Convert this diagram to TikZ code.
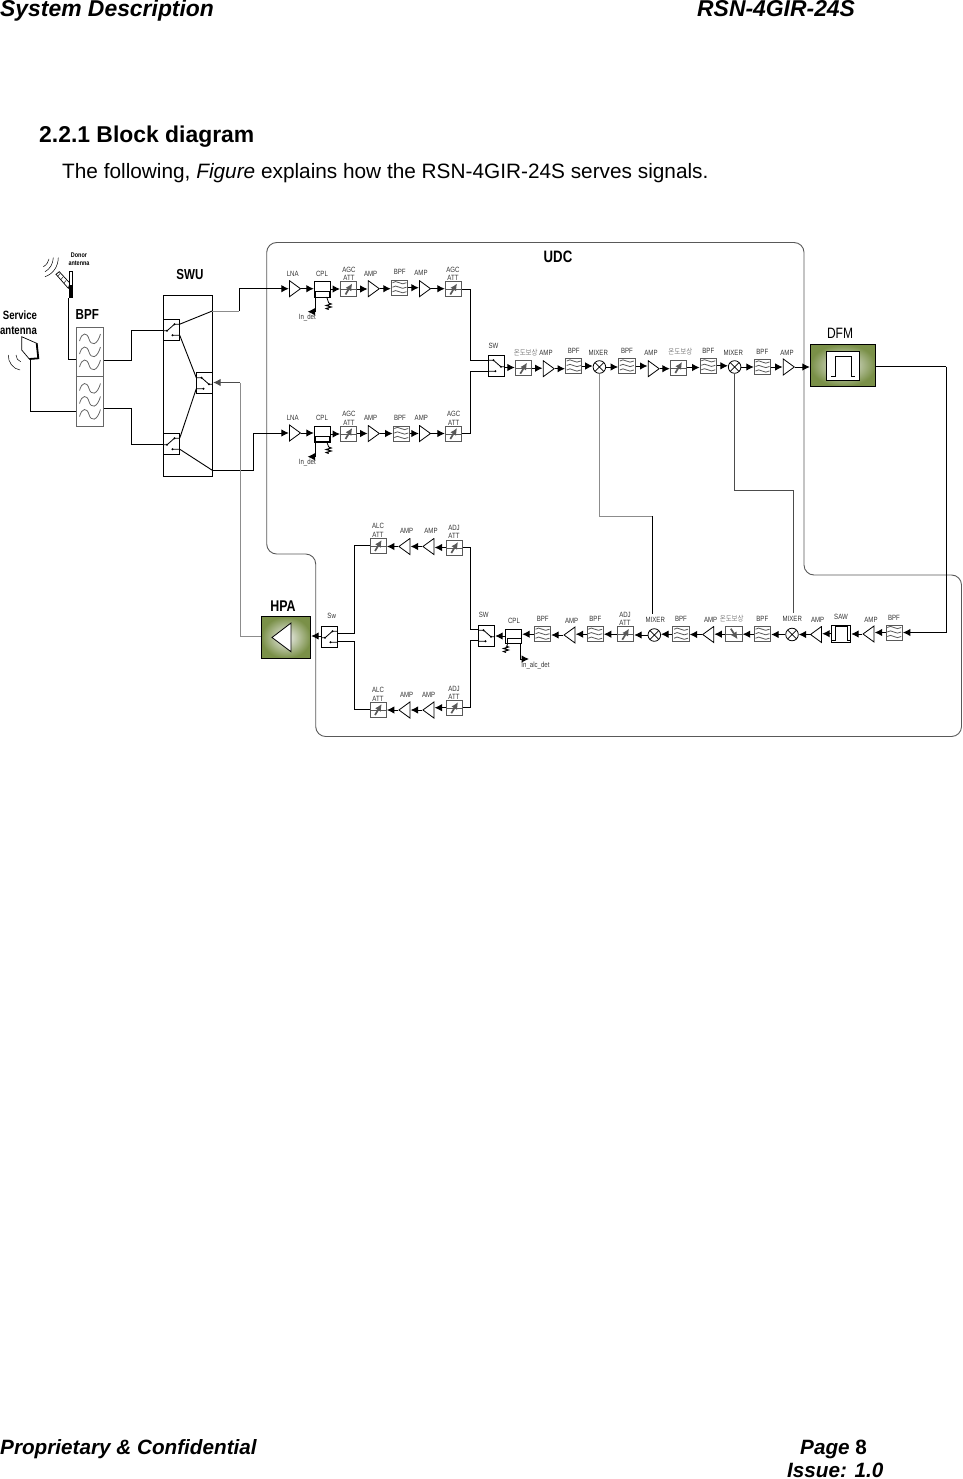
\documentclass[tikz,border=0pt]{standalone}
\usepackage{fontspec}
\setmainfont{Liberation Sans}
\newfontfamily\cond[FakeStretch=0.8]{Liberation Sans}
\newfontfamily\kr[FakeStretch=0.85]{Noto Sans CJK KR}
\usetikzlibrary{arrows.meta,calc}
\definecolor{lblc}{HTML}{333333}
\definecolor{grn}{HTML}{7A9048}
\newcounter{lb}
\newcommand{\lab}[3]{\stepcounter{lb}\node[lbl] (lab\thelb) at (#1,#2) {#3};}
\newcommand{\klab}[2]{\stepcounter{lb}\node[lbl,text=gray] (lab\thelb) at (#1,#2) {\kr 온도보상};}
\newcommand{\cnr}[2]{\draw[arr] (#1.east) -- (#1.east -| #2.west);}
\newcommand{\cnl}[2]{\draw[arr] (#1.west) -- (#1.west -| #2.east);}
\newcommand{\resist}[2]{\draw[line width=1] (#1,#2) -- ++(2.5,1) -- ++(-5,1.5) -- ++(5,1.5) -- ++(-5,1.5) -- ++(2.5,1);}
\tikzset{
 lbl/.style={inner sep=0,text=lblc,font=\cond\fontsize{7.6}{8}\selectfont},
 big/.style={inner sep=0,text=black,font=\cond\bfseries\fontsize{14.5}{15}\selectfont},
 head/.style={inner sep=0,anchor=base west,text=black,font=\bfseries\itshape\fontsize{22.9}{24}\selectfont},
 foot/.style={inner sep=0,anchor=base west,text=black,font=\bfseries\itshape\fontsize{20.7}{24}\selectfont},
 wire/.style={line width=1,black},
 gwire/.style={line width=1,black!45},
 arr/.style={line width=1,black,-{Latex[length=7.5,width=7.5]}},
 box/.style={draw=black,line width=1,inner sep=0,minimum width=16.4,minimum height=15},
 ampr/.style={inner sep=0,minimum width=12,minimum height=17,path picture={
   \draw[line width=.8,shift={(path picture bounding box.center)}] (-5.5,-8) -- (-5.5,8) -- (5.5,0) -- cycle;}},
 ampl/.style={inner sep=0,minimum width=12,minimum height=17,path picture={
   \draw[line width=.8,shift={(path picture bounding box.center)}] (5.5,-8) -- (5.5,8) -- (-5.5,0) -- cycle;}},
 filt/.style={box,draw=black!65,path picture={
   \draw[line width=.8,shift={(path picture bounding box.center)}]
    \foreach \yy in {-4.5,0,4.5} { (-7,\yy-.5) .. controls (-3,\yy-4.5) and (2,\yy+3.5) .. (7,\yy-.5) };}},
 bigfilt/.style={draw=black!60,line width=1,inner sep=0,minimum width=27.4,minimum height=49.5,path picture={
   \draw[line width=.8,shift={(path picture bounding box.center)}]
    \foreach \yy in {-13,0,13} { (-10.5,\yy+2) .. controls (-8,\yy-7) and (-3,\yy-7) .. (-1,\yy) .. controls (1,\yy+7) and (7,\yy+7) .. (10.5,\yy-5) };}},
 att/.style={box,draw=black!65,path picture={
   \begin{scope}[shift={(path picture bounding box.center)}]
   \draw[line width=.7] (-9,0.5) -- (9,0.5);
   \draw[line width=1.7,-{Latex[length=7,width=7]}] (-3.2,5.5) -- (3.5,-5.5);
   \end{scope}}},
 attm/.style={box,draw=black!65,path picture={
   \begin{scope}[shift={(path picture bounding box.center)}]
   \draw[line width=.7] (-9,0.5) -- (9,0.5);
   \draw[line width=1.7,{Latex[length=7,width=7]}-] (3.5,5) -- (-3.2,-5.5);
   \end{scope}}},
 mix/.style={circle,draw=black,line width=.8,inner sep=0,minimum size=12.6,path picture={
   \draw[line width=.7,shift={(path picture bounding box.center)}] (-6,-6) -- (6,6) (-6,6) -- (6,-6);}},
 swl/.style={box,minimum height=21,path picture={
   \begin{scope}[shift={(path picture bounding box.center)}]
   \draw[line width=.8] (-9,-5.6) -- (-3,-5.6) -- (4.5,1) -- (9,1) (-9,5.4) -- (-1,5.4);
   \fill (-3,-5.6) circle (1.1) (-1,5.4) circle (1.1) (4.5,1) circle (1.1);
   \end{scope}}},
 swr/.style={box,minimum height=21,path picture={
   \begin{scope}[shift={(path picture bounding box.center)}]
   \draw[line width=.8] (9,-5.6) -- (3,-5.6) -- (-4.5,1) -- (-9,1) (9,5.4) -- (1,5.4);
   \fill (3,-5.6) circle (1.1) (1,5.4) circle (1.1) (-4.5,1) circle (1.1);
   \end{scope}}},
 green/.style={draw=black,line width=1,inner sep=0,inner color=black!5!white,outer color=grn},
}
\begin{document}
\begin{tikzpicture}[x=1pt,y=-1pt]
\useasboundingbox (0,0) rectangle (962,1479);
% page text
\node[head] (h1) at (0,17) {System Description};
\node[head] (h2) at (697,17) {RSN-4GIR-24S};
\node[inner sep=0,anchor=base west,font=\bfseries\fontsize{22.9}{24}\selectfont] (t1) at (39,142.7) {2.2.1 Block diagram};
\node[inner sep=0,anchor=base west,font=\fontsize{20.8}{24}\selectfont] (t2) at (62,178.7) {The following, \textit{Figure} explains how the RSN-4GIR-24S serves signals.};
\node[foot] (f1) at (0,1454.5) {Proprietary \& Confidential};
\node[foot] (f2) at (800,1454.5) {Page \textup{8}};
\node[foot] (f3) at (787,1477.8) {Issue: 1.0};
% UDC outline
\draw[line width=.9,black!65,rounded corners=10] (266.7,400) -- (266.7,242.5) -- (804,242.5) -- (804,575) -- (961.5,575) -- (961.5,736.5) -- (315.7,736.5) -- (315.7,554) -- (266.7,554) -- (266.7,400);
\node[big,font=\cond\bfseries\fontsize{16.5}{17}\selectfont] (udc) at (558,257) {UDC};
\node[big] (swu) at (190,275) {SWU};
\node[big] (bpfl) at (87.3,314.3) {BPF};
\node[big,font=\cond\bfseries\fontsize{15.5}{16}\selectfont] (hpal) at (283,606) {HPA};
\node[inner sep=0,font=\cond\fontsize{15}{16}\selectfont] (dfml) at (840,333) {DFM};
\node[inner sep=0,align=center,font=\cond\bfseries\fontsize{6.8}{8}\selectfont] (don) at (79,259.5) {Donor\\antenna};
\node[inner sep=0,font=\cond\bfseries\fontsize{12}{13}\selectfont] (srv1) at (20,315.5) {Service};
\node[inner sep=0,font=\cond\bfseries\fontsize{12}{13}\selectfont] (srv2) at (18.5,330.5) {antenna};
% antennas
\draw[line width=.7] (56,274.3) -- (59.3,271.7) -- (70,283.3) -- (68.3,288.3) -- cycle;
\draw[line width=.4] (58,276) -- (60,273.5) (61,279.5) -- (63,277) (64,283) -- (66,280.5);
\draw[line width=.8,fill=white] (69.3,271) rectangle (72.7,285);
\fill (69.3,285) rectangle (72.7,298);
\draw[line width=.5] (58.3,257.7) .. controls (58,267) and (53,274) .. (45,276.7);
\draw[line width=.5] (53.3,257.7) .. controls (53,264) and (50,269) .. (45,271.7);
\draw[line width=.5] (49,259) .. controls (48.5,262) and (46.5,265) .. (43.3,266.7);
\draw[line width=.7,fill=white] (21.7,336.7) -- (36.7,343.3) -- (38.3,358.3) -- (29.3,359) -- (21.7,350) -- cycle;
\draw[line width=1.8] (36.7,343.3) -- (38.3,358.3) -- (29.3,359);
\draw[line width=.5] (8.3,355) .. controls (8,362) and (13,369) .. (20,370);
\draw[line width=.5] (16,355) .. controls (16,358) and (18,361) .. (20.7,361.7);
% BPF block
\node[bigfilt] (bpf1) at (90,352) {};
\node[bigfilt] (bpf2) at (90,401.5) {};
\coordinate (donb) at (68.3,298);
\coordinate (srvb) at (30,359);
\draw[wire] (donb) |- (bpf1.west |- 0,359.3);
\draw[wire] (srvb) |- (bpf2.west |- 0,411);
% SWU
\node[draw=black,line width=1,inner sep=0,minimum width=49,minimum height=181] (swubox) at (187.8,385.8) {};
\node[swr] (swa) at (171.5,329.8) {};
\node[swl] (swb) at (204.5,383.3) {};
\node[swr] (swc) at (171.5,443.8) {};
\draw[wire] (bpf1.east |- 0,360.3) -- (131.7,360.3) |- (swa.west |- 0,330.8);
\draw[wire] (bpf2.east |- 0,408.3) -- (131.7,408.3) |- (swc.west |- 0,444.8);
\coordinate (aout) at (212.3,311);
\coordinate (cout) at (212.3,470.3);
\draw[line width=.9] (179.7,324.2) -- (aout);
\draw[line width=.9] (179.7,335.2) -- (196.3,377.7);
\draw[line width=.9] (179.7,438.2) -- (196.3,388.7);
\draw[line width=.9] (179.7,449.2) -- (cout);
% Row 1
\node[ampr] (lna1) at (295,288.7) {};
\node[box,minimum height=16] (cpl1) at (322.5,289) {};
\draw[line width=.9] (315,291.7) rectangle (329,297);
\node[att] (att1a) at (348.7,289) {};
\node[ampr] (amp1a) at (373.8,288.7) {};
\node[filt] (bpf1a) at (399.5,287.7) {};
\node[ampr] (amp1b) at (425,288.7) {};
\node[att] (att1b) at (453.5,289) {};
\draw[gwire] (aout) -- (239.3,311);
\draw[arr] (239.3,311) |- (lna1.west);
\cnr{lna1}{cpl1}\cnr{cpl1}{att1a}\cnr{att1a}{amp1a}\cnr{amp1a}{bpf1a}\cnr{bpf1a}{amp1b}\cnr{amp1b}{att1b}
% Row 2
\node[ampr] (lna2) at (295,433) {};
\node[box,minimum height=16] (cpl2) at (322.5,434) {};
\draw[line width=.9] (315,436.5) rectangle (329,441.7);
\node[att] (att2a) at (348.7,433.5) {};
\node[ampr] (amp2a) at (373.8,433.5) {};
\node[filt] (bpf2a) at (401.3,433.5) {};
\node[ampr] (amp2b) at (425,433.5) {};
\node[att] (att2b) at (453.5,433.5) {};
\draw[arr] (cout) -- (253.3,470.3) |- (lna2.west);
\cnr{lna2}{cpl2}\cnr{cpl2}{att2a}\cnr{att2a}{amp2a}\cnr{amp2a}{bpf2a}\cnr{bpf2a}{amp2b}\cnr{amp2b}{att2b}
% detectors row 1,2
\coordinate (det1) at (307.5,311.7);
\coordinate (det2) at (307.5,456.7);
\draw[arr] (cpl1.south west -| 315.7,297) |- (det1);
\draw[arr] (cpl2.south west -| 315.7,441.7) |- (det2);
\draw[line width=.8] (326.7,297) -- (328.7,303);
\resist{328.7}{303}
\draw[line width=.8] (326.7,441.7) -- (328.7,447);
\resist{328.7}{447}
% Row 3
\node[swl] (sw3) at (496.4,365.8) {};
\node[att] (att3a) at (523.5,368.2) {};
\node[ampr] (amp3a) at (548.7,368.7) {};
\node[filt] (bpf3a) at (573.7,366) {};
\node[mix] (mx1) at (599.4,367) {};
\node[filt] (bpf3b) at (626.8,366) {};
\node[ampr] (amp3b) at (653.7,368.7) {};
\node[att] (att3b) at (678.5,367.5) {};
\node[filt] (bpf3c) at (708.3,365.8) {};
\node[mix] (mx2) at (734.6,367) {};
\node[filt] (bpf3d) at (762.5,367) {};
\node[ampr] (amp3c) at (788.8,367) {};
\node[green,minimum width=65.4,minimum height=42] (dfm) at (843,365.3) {};
\node[draw=black,line width=1,fill=white,inner sep=0,minimum width=33.4,minimum height=28.6,path picture={
  \draw[line width=.8,shift={(path picture bounding box.center)}] (-12,10) -- (-8,10) -- (-8,-9.5) -- (8,-9.5) -- (8,10) -- (12,10);}] (dfmi) at (843,366) {};
\cnr{att3a}{amp3a}\cnr{amp3a}{bpf3a}\cnr{bpf3a}{mx1}\cnr{mx1}{bpf3b}\cnr{bpf3b}{amp3b}\cnr{amp3b}{att3b}\cnr{att3b}{bpf3c}\cnr{bpf3c}{mx2}\cnr{mx2}{bpf3d}\cnr{bpf3d}{amp3c}\cnr{amp3c}{dfm}
\draw[arr] (sw3.east |- 0,367.5) -- (att3a.west |- 0,367.5);
\coordinate (bus1) at (470,360);
\draw[wire] (att1b.east) -| (bus1) -- (sw3.west |- bus1);
\coordinate (bus2) at (470,371.3);
\draw[wire] (att2b.east) -| (bus2) -- (sw3.west |- bus2);
% Lower row
\node[box,minimum height=14.4] (cpl3) at (513.5,636.5) {};
\draw[line width=.9] (507.3,638) rectangle (521,643.7);
\node[filt] (bpf5a) at (542.5,634.2) {};
\node[ampl] (amp5a) at (569.5,635) {};
\node[filt] (bpf5b) at (595.2,634.2) {};
\node[att] (att5a) at (625.5,634.2) {};
\node[mix] (mx3) at (654.3,635) {};
\node[filt] (bpf5c) at (681,634.2) {};
\node[ampl] (amp5b) at (708.2,634.5) {};
\node[attm] (att5b) at (734,634.2) {};
\node[filt] (bpf5d) at (762.5,634.2) {};
\node[mix] (mx4) at (792,634.5) {};
\node[ampl] (amp5c) at (816,634.5) {};
\node[draw=black,line width=1,inner sep=0,minimum width=19,minimum height=17.4,path picture={
  \draw[line width=.8,shift={(path picture bounding box.center)}] (-9,7) -- (-6,7) -- (-6,-7) -- (6,-7) -- (6,7) -- (9,7);}] (saw) at (841.2,633.7) {};
\node[ampl] (amp5d) at (868.5,634) {};
\node[filt] (bpf5e) at (894.2,632.5) {};
\node[swl] (sw5) at (486.5,635.8) {};
\cnl{bpf5e}{amp5d}\cnl{amp5d}{saw}\cnl{saw}{amp5c}\cnl{amp5c}{mx4}\cnl{mx4}{bpf5d}\cnl{bpf5d}{att5b}\cnl{att5b}{amp5b}\cnl{amp5b}{bpf5c}\cnl{bpf5c}{mx3}\cnl{mx3}{att5a}\cnl{att5a}{bpf5b}\cnl{bpf5b}{amp5a}\cnl{amp5a}{bpf5a}\cnl{bpf5a}{cpl3}
\draw[arr] (cpl3.west |- 0,636) -- (sw5.east |- 0,636);
% DFM feedback
\coordinate (fbk) at (946,366.5);
\draw[line width=1] (dfm.east |- fbk) -- (fbk);
\draw[arr] (fbk) |- (bpf5e.east);
% LO lines
\coordinate (lo1a) at (599.4,516);
\coordinate (lo1b) at (652.3,614);
\coordinate (lo2a) at (734.6,490);
\coordinate (lo2b) at (793.5,613);
\draw[gwire,line width=.9] (mx1.south) -- (lo1a) -- (lo1a -| lo1b);
\draw[line width=1] (lo1a -| lo1b) -- (lo1b);
\draw[line width=.9,black!70] (mx2.south) -- (lo2a) -| (lo2b);
% detector lower
\coordinate (det3) at (529,659);
\draw[arr] (520.5,643.7) |- (det3);
\draw[line width=.8] (507.5,643.7) -- (507,646);
\resist{506}{646}
\lab{535.5}{665}{In\_alc\_det}
% upper/lower branches
\node[att] (att6a) at (378.2,545.5) {};
\node[ampl] (amp6a) at (404.4,546.5) {};
\node[ampl] (amp6b) at (428.4,546.5) {};
\node[att] (att6b) at (454.5,547.5) {};
\node[att] (att7a) at (378.2,709.5) {};
\node[ampl] (amp7a) at (404.4,710) {};
\node[ampl] (amp7b) at (428.4,710) {};
\node[att] (att7b) at (454.5,707.7) {};
\cnl{att6b}{amp6b}\cnl{amp6b}{amp6a}\cnl{amp6a}{att6a}
\cnl{att7b}{amp7b}\cnl{amp7b}{amp7a}\cnl{amp7a}{att7a}
\node[swr] (sw6) at (329.5,636.8) {};
\coordinate (bus3) at (354.3,633.3);
\coordinate (bus4) at (354.3,641.3);
\coordinate (bus5) at (470.3,629.3);
\coordinate (bus6) at (470.3,640.3);
\draw[wire] (sw6.east |- bus3) -- (bus3) |- (att6a.west);
\draw[wire] (sw6.east |- bus4) -- (bus4) |- (att7a.west);
\draw[wire] (att6b.east) -| (bus5) -- (sw5.west |- bus5);
\draw[wire] (att7b.east) -| (bus6) -- (sw5.west |- bus6);
% HPA
\node[green,minimum width=49.4,minimum height=41.6] (hpa) at (286,637.5) {};
\draw[line width=.8,fill=white] (272,637.5) -- (291,623) -- (291,651.7) -- cycle;
\draw[arr] (sw6.west |- 0,636) -- (hpa.east |- 0,636);
\coordinate (hfb) at (240,636);
\draw[gwire,line width=.9] (hpa.west |- hfb) -- (hfb) -- (240,382.5);
\draw[arr,black!70] (240,382.5) -- (swb.east |- 0,382.5);
% labels
\lab{292.7}{274}{LNA}\lab{322}{274}{CPL}\lab{349}{270}{AGC}\lab{349}{278}{ATT}\lab{370.7}{273.7}{AMP}\lab{399.7}{271.7}{BPF}\lab{421}{273}{AMP}\lab{453}{270}{AGC}\lab{453}{278}{ATT}
\lab{307.3}{317.7}{In\_det}
\lab{292.7}{417.7}{LNA}\lab{322}{418}{CPL}\lab{349}{414}{AGC}\lab{349}{422.7}{ATT}\lab{370.7}{418}{AMP}\lab{400}{418}{BPF}\lab{421.3}{418}{AMP}\lab{453.7}{414}{AGC}\lab{453.7}{422.7}{ATT}
\lab{307.3}{462.7}{In\_det}
\lab{493.5}{345.7}{SW}\klab{525.7}{352.7}\lab{546}{353}{AMP}\lab{573.7}{350.7}{BPF}\lab{598.3}{352.7}{MIXER}\lab{627}{350.7}{BPF}\lab{651}{353.3}{AMP}\klab{680.3}{352}\lab{708.3}{350.7}{BPF}\lab{733.3}{352.7}{MIXER}\lab{762.3}{352}{BPF}\lab{787}{353.3}{AMP}
\lab{378}{526}{ALC}\lab{378}{534.5}{ATT}\lab{406.7}{531.3}{AMP}\lab{431}{531.3}{AMP}\lab{454}{527.7}{ADJ}\lab{454}{536.3}{ATT}
\lab{331.7}{616}{Sw}\lab{483.7}{615.3}{SW}\lab{514}{621}{CPL}
\lab{378}{690}{ALC}\lab{378}{699}{ATT}\lab{406.7}{695}{AMP}\lab{428.7}{695}{AMP}\lab{454}{689}{ADJ}\lab{454}{697}{ATT}
\lab{542.7}{618.7}{BPF}\lab{571.7}{620.7}{AMP}\lab{595.3}{619}{BPF}\lab{625}{615}{ADJ}\lab{625}{622.7}{ATT}\lab{655.3}{620.3}{MIXER}\lab{681}{619}{BPF}\lab{710.7}{620.3}{AMP}\klab{731.7}{619}\lab{762.3}{619}{BPF}\lab{792.3}{618.7}{MIXER}\lab{817.7}{620.3}{AMP}\lab{841}{616.7}{SAW}\lab{871}{620.3}{AMP}\lab{894}{617.7}{BPF}
\end{tikzpicture}
\end{document}
